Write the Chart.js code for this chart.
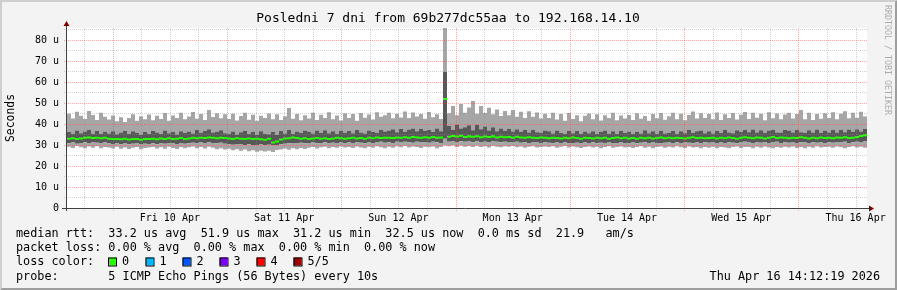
<!DOCTYPE html>
<html><head><meta charset="utf-8">
<script src="https://cdn.jsdelivr.net/npm/chart.js@4/dist/chart.umd.min.js"></script>
<style>html,body{margin:0;padding:0;background:#f3f3f3;overflow:hidden}canvas{display:block}</style>
</head><body>
<canvas id="c" width="897" height="290"></canvas>
<script>
// ---------- data ----------
const TITLE = 'Posledni 7 dni from 69b277dc55aa to 192.168.14.10';
const STEP_HOURS = 0.84;       // hours covered by one sample (168 h / 200)
const FIRST_MIDNIGHT = 9.6;    // hours after start of the graph
const dayLabels = ['Fri 10 Apr','Sat 11 Apr','Sun 12 Apr','Mon 13 Apr','Tue 14 Apr','Wed 15 Apr','Thu 16 Apr'];
const yTickValues = [0,10,20,30,40,50,60,70,80];
const yMax = 85.7;

// five sorted pings (microseconds): min, 2nd, median, 4th, max
const pingMin = [
29.2,28.6,29.5,28.9,28.4,29.3,28.7,29.4,28.5,29.1, 28.8,28.3,29.2,28.2,28.8,28.1,28.7,29.0,28.0,28.6,
28.8,29.1,28.3,28.9,28.2,29.2,28.6,28.1,28.9,28.4, 28.9,29.3,28.5,29.0,28.3,29.2,28.7,28.0,28.4,27.8,
28.2,27.5,28.0,27.2,27.8,27.0,27.5,26.8,27.3,26.9, 27.2,26.7,27.6,27.9,28.3,27.7,28.5,28.0,28.6,28.1,
28.7,29.0,28.3,28.9,29.2,28.5,29.1,28.7,29.3,28.8, 29.1,28.6,29.3,28.8,28.4,29.2,28.7,29.4,28.9,28.5,
29.2,28.7,29.4,28.9,29.5,28.8,29.3,29.0,28.6,29.2, 28.9,29.3,28.5,29.0,29.8,29.4,29.7,29.1,29.6,29.2,
29.5,29.0,29.6,29.1,29.4,28.8,29.5,29.2,28.9,29.4, 29.2,29.5,28.9,29.3,28.7,29.2,29.4,28.8,29.1,29.3,
29.0,29.4,28.7,29.2,29.5,28.8,29.3,28.9,28.6,29.1, 29.3,28.8,29.2,28.5,29.0,29.4,28.7,29.1,29.3,28.8,
29.1,28.6,29.0,29.4,28.7,29.2,28.5,29.0,29.3,28.7, 29.2,28.8,29.4,28.9,28.6,29.3,28.8,29.1,28.5,29.0,
28.7,29.2,28.5,29.1,28.8,28.4,29.0,29.3,28.6,29.1, 29.0,28.5,29.2,28.7,29.3,28.8,28.4,29.1,28.7,29.2,
28.8,29.3,28.6,29.0,28.4,29.2,28.7,29.4,28.8,29.1, 29.2,28.7,29.3,28.9,28.5,29.1,29.4,28.8,29.2,28.7];
const pingLow = [
30.8,31.2,30.6,31.0,31.3,30.9,31.4,31.1,30.7,31.2, 30.9,30.5,30.8,30.4,30.7,30.3,30.6,30.9,30.2,30.6,
30.5,30.8,30.4,30.9,30.6,31.0,30.7,30.5,30.9,30.6, 30.8,31.1,30.7,31.2,30.9,31.3,31.0,30.8,31.1,30.6,
30.4,30.1,30.5,30.2,29.9,30.3,30.0,29.8,30.2,29.9, 30.1,29.7,30.0,30.3,30.6,30.8,31.0,30.7,31.1,30.8,
30.9,31.2,30.8,31.0,31.3,30.7,31.1,30.9,31.4,31.0, 31.2,30.9,31.3,31.1,30.8,31.4,31.0,31.2,31.5,31.1,
31.3,31.0,31.5,31.2,31.6,31.3,31.1,31.5,31.2,31.4, 31.1,31.5,31.3,31.0,33.0,31.6,31.9,31.4,31.8,31.5,
31.7,31.3,31.8,31.4,31.6,31.2,31.7,31.5,31.3,31.6, 31.4,31.2,31.5,31.1,31.3,31.0,31.4,31.2,30.9,31.3,
31.1,30.8,31.2,30.9,31.3,31.0,30.7,31.1,30.9,31.2, 31.0,31.3,30.8,31.1,30.9,31.4,31.0,30.7,31.2,31.0,
30.9,31.2,30.8,31.1,31.3,30.9,31.2,31.0,30.7,31.1, 31.2,30.9,31.3,31.0,31.4,31.1,30.8,31.2,31.0,31.3,
31.1,31.4,30.9,31.2,31.0,31.3,31.1,30.8,31.2,31.5, 31.2,31.0,31.4,31.1,31.3,30.9,31.2,31.5,31.0,31.3,
31.1,31.4,31.0,31.3,31.2,30.9,31.3,31.1,31.4,31.0, 31.3,31.1,31.4,31.2,31.5,31.0,31.3,31.6,31.4,31.7];
const median = [
33.0,33.2,32.9,33.1,33.4,33.6,33.3,33.5,33.2,33.4, 33.0,32.8,32.9,32.7,33.0,32.6,32.9,32.8,32.5,32.9,
32.8,33.0,32.7,33.1,32.9,33.2,32.8,33.0,33.3,32.9, 33.1,33.4,33.2,33.5,33.3,33.6,33.4,33.2,33.5,33.3,
33.1,32.9,33.2,33.0,32.8,33.1,32.9,33.0,32.7,32.5, 33.0,31.2,31.7,32.6,33.1,33.2,33.6,33.3,33.0,33.2,
32.9,33.1,33.3,33.0,33.2,32.8,33.1,33.4,33.2,33.0, 33.2,33.4,33.1,33.3,33.0,33.5,33.2,33.6,33.3,33.4,
33.5,33.3,33.6,33.4,33.7,33.5,33.8,33.6,33.4,33.7, 33.5,33.8,33.4,33.6,51.9,33.9,34.3,34.0,34.4,33.8,
34.1,33.9,34.2,33.7,34.0,33.8,34.1,33.6,33.9,33.7, 33.8,33.5,33.9,33.6,33.4,33.7,33.5,33.3,33.6,33.4,
33.2,33.5,33.3,33.1,33.4,33.2,33.6,33.3,33.0,33.4, 33.3,33.1,33.4,33.2,33.5,33.0,33.3,33.6,33.2,33.4,
33.1,33.3,33.0,33.4,33.2,33.5,33.1,33.3,33.6,33.2, 33.4,33.2,33.5,33.3,33.1,33.4,33.7,33.3,33.5,33.2,
33.3,33.5,33.1,33.4,33.2,33.6,33.3,33.0,33.4,33.7, 33.5,33.2,33.6,33.4,33.1,33.5,33.8,33.3,33.6,33.4,
33.2,33.5,33.3,33.7,33.4,33.1,33.5,33.2,33.6,33.3, 33.5,33.2,33.6,33.4,33.7,33.3,33.5,33.8,34.3,34.6];
const pingHigh = [
36.2,35.3,36.9,35.6,36.4,37.2,35.4,36.7,35.2,36.3, 35.5,36.6,35.1,36.0,36.8,35.3,36.5,35.8,34.9,36.2,
35.4,36.7,35.9,35.2,36.9,35.6,36.3,35.0,36.6,35.7, 36.4,35.5,37.1,35.8,36.7,37.5,35.9,36.3,37.0,35.6,
35.3,36.4,35.0,36.1,36.8,35.2,36.3,34.9,36.5,35.4, 35.1,36.2,34.8,36.7,35.5,37.3,35.4,36.4,35.7,36.9,
36.3,35.5,36.9,35.7,37.0,35.6,36.6,35.3,36.8,35.8, 36.7,35.6,37.1,36.0,35.5,36.9,36.2,35.7,37.2,36.4,
36.9,37.5,36.1,37.6,36.3,37.4,37.9,36.5,37.7,36.8, 37.3,36.2,37.8,36.6,64.8,39.1,37.2,39.8,37.9,38.5,
39.4,37.0,39.6,37.5,38.8,36.9,38.4,36.6,37.9,36.8, 37.7,36.4,37.5,36.2,37.3,36.0,37.2,36.1,35.8,36.9,
36.6,35.5,36.9,35.7,35.4,36.8,35.6,36.7,35.3,36.4, 35.6,36.6,35.2,36.3,36.9,35.4,36.5,35.3,36.7,35.7,
36.4,35.3,36.3,35.5,37.0,35.6,36.6,35.4,36.8,35.5, 35.8,36.7,35.4,36.5,35.6,37.1,35.7,36.6,36.9,35.6,
36.6,35.5,36.8,35.7,37.2,36.0,35.6,37.0,36.2,37.3, 36.1,37.4,35.9,37.0,35.8,36.9,37.3,36.0,35.9,37.1,
36.9,35.9,37.2,36.1,35.7,37.0,36.0,37.4,35.8,36.9, 36.0,37.1,35.9,37.3,36.1,37.4,36.2,37.5,36.4,37.6];
const pingMax = [
44.9,42.6,45.8,43.9,42.4,46.2,44.3,41.9,45.4,43.5, 42.1,44.0,41.3,43.2,40.9,42.8,44.6,41.6,43.7,42.3,
44.5,41.8,43.9,42.4,45.2,41.5,44.0,42.9,45.3,42.2, 43.6,45.7,42.5,44.8,41.9,46.7,43.3,45.1,42.7,44.6,
42.4,44.9,41.7,43.8,45.3,42.0,44.4,41.6,43.9,42.8, 45.0,42.3,44.6,41.9,43.7,47.6,42.5,44.8,41.8,44.2,
42.6,45.3,41.9,44.4,42.8,45.6,42.2,44.0,41.7,45.1, 42.9,44.7,41.6,45.2,43.0,44.5,42.1,45.6,43.4,44.1,
45.4,42.7,44.9,43.1,46.0,42.8,45.5,43.6,44.8,42.5, 45.7,43.2,44.6,42.4,90.0,45.1,48.6,44.2,49.5,45.3,
47.8,51.0,44.9,48.6,45.2,47.7,44.6,46.9,43.8,46.2, 44.1,46.6,43.5,45.8,42.9,46.1,43.4,45.5,42.6,44.9,
42.8,45.3,42.1,44.7,41.6,45.2,42.4,44.1,41.3,43.9, 45.0,42.3,44.6,41.7,44.2,42.9,45.4,41.8,44.0,42.6,
44.3,41.9,45.1,42.5,43.8,41.6,44.7,42.7,45.2,42.0, 43.7,45.4,42.2,44.9,41.8,44.3,46.0,42.6,45.1,42.9,
44.8,42.3,45.5,41.9,44.6,42.8,45.2,42.1,44.4,45.7, 42.4,45.3,43.0,44.9,41.8,45.6,42.7,45.0,42.2,44.5,
45.4,42.6,44.8,46.7,42.3,45.3,41.9,44.7,42.5,45.1, 42.8,45.6,42.2,44.9,46.1,42.7,45.3,43.0,45.8,43.6];

const legendLines = [
  'median rtt:  33.2 us avg  51.9 us max  31.2 us min  32.5 us now  0.0 ms sd  21.9   am/s',
  'packet loss: 0.00 % avg  0.00 % max  0.00 % min  0.00 % now',
  'loss color:',
  'probe:       5 ICMP Echo Pings (56 Bytes) every 10s'
];
const lossLabels = ['0','1','2','3','4','5/5'];
const lossColors = ['#26ff00','#00b8ff','#0059ff','#7e00ff','#ff0000','#a10000'];
const timestamp = 'Thu Apr 16 14:12:19 2026';
const sideText = 'RRDTOOL / TOBI OETIKER';

// ---------- drawing ----------
const MONO = '"DejaVu Sans Mono", monospace';
const MEDIAN_HALF = 0.48; // half thickness of the median band, in axis units
function toPts(arr, shift){
  const s = shift || 0;
  const pts = arr.map((v,i)=>({x:i*STEP_HOURS, y:v+s}));
  pts.push({x:arr.length*STEP_HOURS, y:arr[arr.length-1]+s});
  return pts;
}
const LIGHT = '#a6a6a6', DARK = '#585858', GREEN = '#26ff00';
const common = {pointRadius:0, borderWidth:0, stepped:true, tension:0, borderColor:'rgba(0,0,0,0)'};

const rrdPlugin = {
  id:'rrd',
  beforeDraw(chart){
    const ctx = chart.ctx, W = chart.width, H = chart.height, a = chart.chartArea;
    ctx.save();
    ctx.fillStyle = '#f3f3f3'; ctx.fillRect(0,0,W,H);
    ctx.fillStyle = '#cfcfcf';
    ctx.beginPath(); ctx.moveTo(0,0); ctx.lineTo(W,0); ctx.lineTo(W-2,2); ctx.lineTo(2,2); ctx.lineTo(2,H-2); ctx.lineTo(0,H); ctx.closePath(); ctx.fill();
    ctx.fillStyle = '#9e9e9e';
    ctx.beginPath(); ctx.moveTo(W,0); ctx.lineTo(W,H); ctx.lineTo(0,H); ctx.lineTo(2,H-2); ctx.lineTo(W-2,H-2); ctx.lineTo(W-2,2); ctx.closePath(); ctx.fill();
    ctx.fillStyle = '#ffffff';
    ctx.fillRect(a.left, a.top, a.right-a.left, a.bottom-a.top);
    ctx.restore();
  },
  afterDatasetsDraw(chart){
    const ctx = chart.ctx, a = chart.chartArea, xs = chart.scales.x, ys = chart.scales.y;
    ctx.save();
    ctx.lineWidth = 1;
    ctx.setLineDash([1,1]);
    const RED = 'rgba(222,80,80,0.45)', GRAY = 'rgba(143,143,143,0.4)';
    for (let v = 5; v <= yMax; v += 5) {
      const y = Math.round(ys.getPixelForValue(v)) + 0.5;
      ctx.strokeStyle = (v % 10 === 0) ? RED : GRAY;
      ctx.beginPath(); ctx.moveTo(a.left-3, y); ctx.lineTo(a.right+1, y); ctx.stroke();
    }
    for (let h = FIRST_MIDNIGHT - 6; h < 168; h += 6) {
      if (h <= 0) continue;
      const x = Math.round(xs.getPixelForValue(h)) + 0.5;
      const isMid = Math.abs(((h - FIRST_MIDNIGHT) % 24 + 24) % 24) < 0.01;
      ctx.strokeStyle = isMid ? RED : GRAY;
      ctx.beginPath(); ctx.moveTo(x, a.top); ctx.lineTo(x, a.bottom+4); ctx.stroke();
    }
    ctx.setLineDash([]);
    const ax = a.left - 0.5, ay = Math.round(ys.getPixelForValue(0)) + 0.5;
    ctx.strokeStyle = '#404040';
    ctx.beginPath(); ctx.moveTo(ax, a.bottom+3); ctx.lineTo(ax, a.top-2); ctx.stroke();
    ctx.beginPath(); ctx.moveTo(a.left-5, ay); ctx.lineTo(a.right+2, ay); ctx.stroke();
    ctx.fillStyle = '#800000';
    ctx.beginPath(); ctx.moveTo(ax-3, a.top-2); ctx.lineTo(ax+3, a.top-2); ctx.lineTo(ax, a.top-7); ctx.closePath(); ctx.fill();
    ctx.beginPath(); ctx.moveTo(a.right+2, ay-3); ctx.lineTo(a.right+2, ay+3); ctx.lineTo(a.right+7, ay); ctx.closePath(); ctx.fill();
    ctx.restore();
  },
  afterDraw(chart){
    const ctx = chart.ctx;
    ctx.save();
    ctx.fillStyle = '#000';
    ctx.textBaseline = 'middle';
    ctx.font = '13px ' + MONO;
    ctx.textAlign = 'center';
    ctx.fillText(TITLE, 448, 19);
    ctx.textAlign = 'left';
    ctx.font = '11.8px ' + MONO;
    const ys = [234, 248, 262, 276.5];
    legendLines.forEach((t,i)=>ctx.fillText(t, 16, ys[i]));
    const boxX = [108, 145.5, 182.5, 219.5, 256.5, 293.5];
    lossLabels.forEach((lab,i)=>{
      ctx.fillStyle = lossColors[i];
      ctx.fillRect(boxX[i], 257.5, 8, 8);
      ctx.strokeStyle = '#000'; ctx.lineWidth = 1;
      ctx.strokeRect(boxX[i]+0.5, 258, 8, 8);
      ctx.fillStyle = '#000';
      ctx.fillText(lab, boxX[i]+14, 262);
    });
    ctx.textAlign = 'right';
    ctx.fillText(timestamp, 880, 276.5);
    ctx.translate(887, 5);
    ctx.rotate(Math.PI/2);
    ctx.textAlign = 'left';
    ctx.textBaseline = 'middle';
    ctx.font = '8.3px ' + MONO;
    ctx.fillStyle = '#acacac';
    ctx.fillText(sideText, 0, 0);
    ctx.restore();
  }
};

new Chart(document.getElementById('c'), {
  type:'line',
  data:{datasets:[
    Object.assign({label:'ping1', data:toPts(pingMin), fill:false}, common),
    Object.assign({label:'ping2', data:toPts(pingLow), fill:'-1', backgroundColor:LIGHT}, common),
    Object.assign({label:'ping4', data:toPts(pingHigh), fill:'-1', backgroundColor:DARK}, common),
    Object.assign({label:'ping5', data:toPts(pingMax), fill:'-1', backgroundColor:LIGHT}, common),
    Object.assign({label:'median low', data:toPts(median, -MEDIAN_HALF), fill:false, order:-1}, common),
    Object.assign({label:'median rtt', data:toPts(median, MEDIAN_HALF), fill:'-1', backgroundColor:GREEN, order:-2}, common)
  ]},
  options:{
    responsive:false, devicePixelRatio:1, animation:false,
    layout:{padding:{top:28, right:30, left:0, bottom:0}},
    plugins:{legend:{display:false}, tooltip:{enabled:false}, title:{display:false}},
    scales:{
      x:{type:'linear', min:0, max:168,
        grid:{display:false, drawTicks:false}, border:{display:false},
        afterBuildTicks:(s)=>{ s.ticks = dayLabels.map((_,d)=>({value:FIRST_MIDNIGHT+12+24*d})); },
        afterFit:(s)=>{ s.height = 82; },
        ticks:{autoSkip:false, maxRotation:0, minRotation:0, padding:4, color:'#000',
          font:{family:MONO, size:10}, callback:(v,i)=>dayLabels[i]}
      },
      y:{min:0, max:yMax,
        grid:{display:false, drawTicks:false}, border:{display:false},
        afterBuildTicks:(s)=>{ s.ticks = yTickValues.map(v=>({value:v})); },
        afterFit:(s)=>{ s.width = 67; },
        ticks:{padding:8, color:'#000', font:{family:MONO, size:10},
          callback:(v)=> v===0 ? '0' : v+' u'},
        title:{display:true, text:'Seconds', color:'#000', font:{family:MONO, size:11.4}, padding:{top:4,bottom:0}}
      }
    }
  },
  plugins:[rrdPlugin]
});
</script>
</body></html>
